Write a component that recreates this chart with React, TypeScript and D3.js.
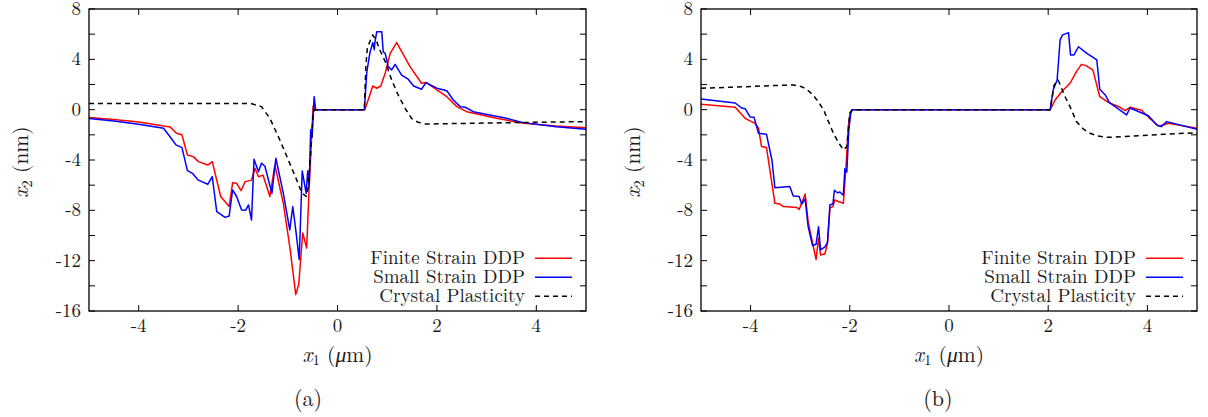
import React from 'react';
import * as d3 from 'd3';

type Pt = [number, number];

const xTicks = [-4, -2, 0, 2, 4];
const yLabelTicks = [8, 4, 0, -4, -8, -12, -16];
const yMinorTicks = [8, 6, 4, 2, 0, -2, -4, -6, -8, -10, -12, -14, -16];
const seriesNames = ['Finite Strain DDP', 'Small Strain DDP', 'Crystal Plasticity'];
const captions = ['(a)', '(b)'];

const finiteA: Pt[] = [[-5,-0.63],[-4.5,-0.78],[-4,-0.98],[-3.84,-1.08],[-3.5,-1.3],[-3.37,-1.37],[-3.24,-1.88],[-3.13,-2.0],[-3.02,-3.6],[-2.9,-3.73],[-2.8,-4.13],[-2.61,-4.4],[-2.52,-4.13],[-2.35,-6.9],[-2.18,-7.7],[-2.11,-5.8],[-2.03,-5.85],[-1.94,-6.44],[-1.86,-5.72],[-1.73,-5.6],[-1.66,-4.66],[-1.59,-5.33],[-1.5,-5.2],[-1.36,-6.9],[-1.26,-4.4],[-1.09,-7.44],[-0.96,-10.9],[-0.84,-14.7],[-0.78,-13.9],[-0.7,-9.8],[-0.62,-11.0],[-0.57,-6.1],[-0.49,0.3],[-0.44,0],[0.55,0],[0.71,1.88],[0.79,1.7],[0.87,1.88],[0.96,2.9],[1.06,4.48],[1.19,5.33],[1.46,3.42],[1.69,2.1],[1.79,2.15],[2.0,1.57],[2.2,1.03],[2.4,0.24],[2.6,-0.16],[3.2,-0.69],[3.74,-1.08],[4.4,-1.3],[5,-1.43]];
const smallA: Pt[] = [[-5,-0.7],[-4.5,-0.9],[-4,-1.15],[-3.5,-1.48],[-3.37,-2.15],[-3.25,-2.8],[-3.13,-3.02],[-3.02,-4.85],[-2.92,-5.06],[-2.8,-5.6],[-2.61,-5.93],[-2.52,-5.33],[-2.43,-8.1],[-2.26,-8.56],[-2.18,-8.45],[-2.11,-6.38],[-2.03,-6.9],[-1.93,-7.97],[-1.85,-8.0],[-1.79,-7.57],[-1.73,-8.77],[-1.68,-3.94],[-1.59,-4.93],[-1.53,-4.26],[-1.46,-4.5],[-1.32,-6.65],[-1.24,-3.86],[-1.09,-6.65],[-0.96,-9.56],[-0.9,-7.7],[-0.84,-9.56],[-0.77,-11.9],[-0.71,-4.87],[-0.63,-6.65],[-0.6,-4.87],[-0.57,-6.1],[-0.54,-1.6],[-0.51,-2.15],[-0.47,1.03],[-0.44,0],[0.54,0],[0.59,3.0],[0.65,4.48],[0.71,5.33],[0.74,4.77],[0.75,5.27],[0.79,6.2],[0.89,6.2],[0.92,4.6],[0.96,4.48],[1.02,3.42],[1.09,3.16],[1.16,3.6],[1.29,2.75],[1.42,2.43],[1.53,1.88],[1.69,1.62],[1.78,2.15],[2.0,1.7],[2.2,1.5],[2.33,0.77],[2.47,0.24],[2.57,0.19],[2.73,-0.16],[3.4,-0.69],[3.74,-1.03],[4.4,-1.35],[5,-1.56]];
const crystalA: Pt[] = [[-5,0.5],[-1.75,0.5],[-1.53,0.24],[-1.36,-0.69],[-1.16,-2.41],[-0.99,-4.0],[-0.82,-5.59],[-0.72,-6.6],[-0.63,-6.9],[-0.59,-6.2],[-0.54,-3.47],[-0.49,-0.27],[-0.46,0],[0.54,0],[0.57,3.42],[0.6,4.9],[0.65,5.4],[0.71,5.94],[0.79,5.4],[0.85,4.75],[0.96,3.82],[1.09,2.36],[1.22,1.17],[1.36,0.11],[1.49,-0.69],[1.62,-1.0],[1.79,-1.14],[3.2,-1.05],[5,-0.95]];

const finiteB: Pt[] = [[-5,0.43],[-4.31,0.19],[-4.11,-0.69],[-3.98,-0.95],[-3.91,-1.08],[-3.84,-1.48],[-3.78,-2.93],[-3.68,-3.0],[-3.51,-7.44],[-3.41,-7.5],[-3.34,-7.7],[-3.07,-7.77],[-3.02,-7.93],[-2.9,-6.7],[-2.84,-8.9],[-2.75,-10.6],[-2.68,-11.9],[-2.63,-10.2],[-2.59,-11.55],[-2.5,-11.45],[-2.45,-10.6],[-2.4,-7.8],[-2.34,-7.7],[-2.3,-7.17],[-2.23,-7.3],[-2.13,-7.44],[-2.08,-4.77],[-2.03,-1.35],[-2.0,-0.4],[-1.95,0],[2.04,0],[2.14,0.77],[2.27,1.43],[2.44,2.1],[2.57,3.02],[2.67,3.6],[2.76,3.5],[2.9,3.16],[3.04,1.03],[3.21,0.58],[3.45,0.19],[3.55,-0.08],[3.65,0.19],[3.88,-0.05],[4.05,-0.69],[4.22,-1.3],[4.32,-1.22],[4.42,-1.08],[5,-1.48]];
const smallB: Pt[] = [[-5,0.85],[-4.31,0.53],[-4.18,0.13],[-4.11,0.08],[-4.01,-0.58],[-3.93,-0.61],[-3.84,-1.88],[-3.68,-1.96],[-3.57,-4.0],[-3.51,-6.2],[-3.21,-6.1],[-3.14,-6.86],[-3.02,-6.91],[-2.97,-7.5],[-2.9,-7.1],[-2.84,-9.3],[-2.75,-10.8],[-2.68,-10.7],[-2.63,-9.3],[-2.59,-11.15],[-2.5,-10.9],[-2.45,-10.55],[-2.4,-7.56],[-2.34,-7.5],[-2.31,-6.4],[-2.25,-6.6],[-2.2,-6.54],[-2.13,-6.8],[-2.1,-4.7],[-2.06,-4.96],[-2.02,-1.6],[-1.98,-0.27],[-1.95,0],[2.04,0],[2.1,1.57],[2.18,2.36],[2.24,5.54],[2.29,5.94],[2.41,6.12],[2.45,4.35],[2.52,4.35],[2.61,5.0],[2.78,4.48],[2.98,3.95],[3.04,1.62],[3.15,1.17],[3.23,0.58],[3.58,-0.42],[3.65,0.13],[4.02,-0.48],[4.19,-1.22],[4.28,-1.35],[4.39,-0.95],[5,-1.56]];
const crystalB: Pt[] = [[-5,1.7],[-4.08,1.83],[-3.5,1.92],[-3.14,1.96],[-2.97,1.83],[-2.85,1.55],[-2.74,1.17],[-2.63,0.6],[-2.53,0],[-2.43,-0.95],[-2.33,-1.88],[-2.23,-2.6],[-2.13,-3.2],[-2.06,-2.93],[-2.0,-0.27],[-1.95,0],[2.04,0],[2.12,1.96],[2.2,2.36],[2.27,1.7],[2.35,0.95],[2.44,0.24],[2.57,-0.95],[2.7,-1.5],[2.84,-1.88],[3.0,-2.1],[3.21,-2.2],[3.65,-2.12],[4.32,-1.96],[5,-1.83]];

const FONT = 'Latin Modern Roman';
const colors = ['#ff0000', '#0000ff', '#000000'];
const txt = { fontFamily: FONT, fill: '#1a1a1a' } as React.CSSProperties;

interface PanelProps {
  id: string;
  left: number;
  right: number;
  series: Pt[][];
  caption: string;
  captionX: number;
}

function Panel({ id, left, right, series, caption, captionX }: PanelProps) {
  const top = 9;
  const bottom = 311;
  const x = d3.scaleLinear().domain([-5, 5]).range([left, right]);
  const y = d3.scaleLinear().domain([-16, 8]).range([bottom, top]);
  const line = d3.line<Pt>().x((d) => x(d[0])).y((d) => y(d[1]));
  const tl = 6;
  const legendRows = [258.3, 277.2, 296.3];
  const textRight = right - 61;
  const lx1 = right - 51;
  const lx2 = right - 14;
  const yLabelX = left - 61;
  return (
    <g>
      <defs>
        <clipPath id={`clip-${id}`}>
          <rect x={left} y={top} width={right - left} height={bottom - top} />
        </clipPath>
      </defs>
      <g clipPath={`url(#clip-${id})`}>
        {series.map((s, i) => (
          <path
            key={i}
            d={line(s) || ''}
            fill="none"
            stroke={colors[i]}
            strokeWidth={1.5}
            strokeDasharray={i === 2 ? '5,4' : undefined}
            strokeLinejoin="round"
          />
        ))}
      </g>
      {xTicks.map((t) => (
        <g key={`xt${t}`}>
          <line x1={x(t)} x2={x(t)} y1={bottom} y2={bottom - tl} stroke="#000" strokeWidth={1} />
          <line x1={x(t)} x2={x(t)} y1={top} y2={top + tl} stroke="#000" strokeWidth={1} />
          <text x={x(t)} y={bottom + 20.5} textAnchor="middle" style={{ ...txt, fontSize: 19 }}>
            {t}
          </text>
        </g>
      ))}
      {yMinorTicks.map((t) => (
        <g key={`yt${t}`}>
          <line x1={left} x2={left + tl} y1={y(t)} y2={y(t)} stroke="#000" strokeWidth={1} />
          <line x1={right} x2={right - tl} y1={y(t)} y2={y(t)} stroke="#000" strokeWidth={1} />
        </g>
      ))}
      {yLabelTicks.map((t) => (
        <text key={`yl${t}`} x={left - 8} y={y(t) + 6} textAnchor="end" style={{ ...txt, fontSize: 19 }}>
          {t}
        </text>
      ))}
      <rect x={left} y={top} width={right - left} height={bottom - top} fill="none" stroke="#000" strokeWidth={1.3} />
      {seriesNames.map((name, i) => (
        <g key={name}>
          <text x={textRight} y={legendRows[i] + 5.8} textAnchor="end" style={{ ...txt, fontSize: 19 }}>
            {name}
          </text>
          <line
            x1={lx1}
            x2={lx2}
            y1={legendRows[i]}
            y2={legendRows[i]}
            stroke={colors[i]}
            strokeWidth={1.5}
            strokeDasharray={i === 2 ? '5,4' : undefined}
          />
        </g>
      ))}
      <text x={(left + right) / 2} y={361.5} textAnchor="middle" style={{ ...txt, fontSize: 21.5 }}>
        <tspan fontStyle="italic">x</tspan>
        <tspan fontSize={15} dy={3.5}>1</tspan>
        <tspan dy={-3.5}>{' ('}</tspan>
        <tspan fontStyle="italic">μ</tspan>
        <tspan>m)</tspan>
      </text>
      <text
        transform={`translate(${yLabelX},${162}) rotate(-90)`}
        textAnchor="middle"
        style={{ ...txt, fontSize: 21.5 }}
      >
        <tspan fontStyle="italic">x</tspan>
        <tspan fontSize={15} dy={3.5}>2</tspan>
        <tspan dy={-3.5}>{' (nm)'}</tspan>
      </text>
      <text x={captionX} y={406} textAnchor="middle" style={{ ...txt, fontSize: 22 }}>
        {caption}
      </text>
    </g>
  );
}

export default function App() {
  return (
    <svg
      width={1208}
      height={417}
      style={{ position: 'absolute', left: 0, top: 0, background: '#fff' }}
    >
      <rect x={0} y={0} width={1208} height={417} fill="#fff" />
      <Panel id="a" left={89} right={586} series={[finiteA, smallA, crystalA]} caption={captions[0]} captionX={308} />
      <Panel id="b" left={701} right={1197} series={[finiteB, smallB, crystalB]} caption={captions[1]} captionX={938} />
    </svg>
  );
}
